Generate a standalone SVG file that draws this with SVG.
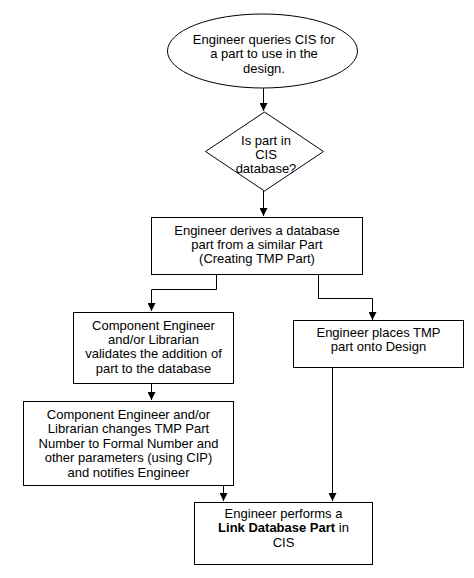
<svg xmlns="http://www.w3.org/2000/svg" width="474" height="578" viewBox="0 0 474 578">
<style>
.s{fill:#fff;stroke:#000;stroke-width:1}
.t{font-family:"Liberation Sans",Arial,sans-serif;font-size:13px;fill:#000;text-anchor:middle}
.c{fill:none;stroke:#000;stroke-width:1}
</style>
<defs>
<marker id="a" viewBox="0 0 8 8" refX="8" refY="4" markerWidth="8" markerHeight="8" markerUnits="userSpaceOnUse" orient="auto">
<path d="M0,0 L8,4 L0,8 z" fill="#000"/>
</marker>
</defs>
<rect width="474" height="578" fill="#fff"/>
<g id="connectors">
<path class="c" d="M263.5,88 V111" marker-end="url(#a)"/>
<path class="c" d="M263.5,191 V216" marker-end="url(#a)"/>
<path class="c" d="M216.5,275 V289.5 H151.5 V311" marker-end="url(#a)"/>
<path class="c" d="M318.5,275 V298.5 H372.5 V320" marker-end="url(#a)"/>
<path class="c" d="M151.5,384 V400" marker-end="url(#a)"/>
<path class="c" d="M223.5,486 V501" marker-end="url(#a)"/>
<path class="c" d="M332.5,368 V501" marker-end="url(#a)"/>
</g>
<g id="start">
<ellipse class="s" cx="262.5" cy="51" rx="95" ry="37"/>
<text class="t" x="264" y="44">Engineer queries CIS for</text>
<text class="t" x="264" y="58">a part to use in the</text>
<text class="t" x="264" y="73">design.</text>
</g>
<g id="decision">
<polygon class="s" points="264.5,112 323.5,151.5 264.5,191 205.5,151.5"/>
<text class="t" x="266" y="145">Is part in</text>
<text class="t" x="266" y="159">CIS</text>
<text class="t" x="266" y="173">database?</text>
</g>
<g id="derive">
<rect class="s" x="151.5" y="217.5" width="211" height="57"/>
<text class="t" x="257" y="235">Engineer derives  a database</text>
<text class="t" x="257" y="249">part from a similar Part</text>
<text class="t" x="257" y="263">(Creating  TMP Part)</text>
</g>
<g id="validate">
<rect class="s" x="73.5" y="312.5" width="160" height="71"/>
<text class="t" x="153.5" y="330">Component  Engineer</text>
<text class="t" x="153.5" y="344">and/or Librarian</text>
<text class="t" x="153.5" y="358">validates the addition of</text>
<text class="t" x="153.5" y="373">part to the database</text>
</g>
<g id="change">
<rect class="s" x="23.5" y="401.5" width="210" height="84"/>
<text class="t" x="128.5" y="419">Component  Engineer  and/or</text>
<text class="t" x="128.5" y="433">Librarian  changes TMP Part</text>
<text class="t" x="128.5" y="448">Number to Formal Number and</text>
<text class="t" x="128.5" y="462">other parameters  (using CIP)</text>
<text class="t" x="128.5" y="477">and notifies Engineer</text>
</g>
<g id="place">
<rect class="s" x="293.5" y="320.5" width="170" height="47"/>
<text class="t" x="378.5" y="337">Engineer  places TMP</text>
<text class="t" x="378.5" y="351">part  onto Design</text>
</g>
<g id="link">
<rect class="s" x="194.5" y="502.5" width="178" height="62"/>
<text class="t" x="283.5" y="518">Engineer  performs  a</text>
<text class="t" x="283.5" y="532"><tspan font-weight="bold">Link Database Part</tspan> in</text>
<text class="t" x="283.5" y="547">CIS</text>
</g>
</svg>
